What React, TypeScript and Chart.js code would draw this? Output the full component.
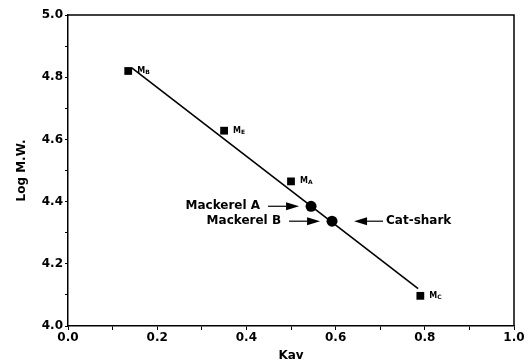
import React, { useEffect, useRef } from 'react';
import { Chart, registerables } from 'chart.js';

Chart.register(...registerables);

// Standards (marker proteins)
const standardNames = ['B', 'E', 'A', 'C'];
const standardKav = [0.135, 0.35, 0.5, 0.79];
const standardLogMW = [4.82, 4.628, 4.465, 4.097];

// Samples
const sampleKav = [0.545, 0.592];
const sampleLogMW = [4.385, 4.337];

// Calibration line end points
const fitKav = [0.143, 0.785];
const fitLogMW = [4.83, 4.12];

// Sample annotations: text, which sample point, which side
const noteTexts = ['Mackerel A', 'Mackerel B', 'Cat-shark'];
const notePoint = [0, 1, 1];
const noteSide = ['left', 'left', 'right'];

const xMin = 0;
const xMax = 1;
const yMin = 4;
const yMax = 5;

const FONT = '"DejaVu Sans", "Liberation Sans", Arial, sans-serif';

function drawArrow(ctx: CanvasRenderingContext2D, x1: number, y: number, x2: number) {
  const dir = x2 > x1 ? 1 : -1;
  const headLen = 13;
  const half = 4;
  ctx.beginPath();
  ctx.moveTo(x1, y);
  ctx.lineTo(x2 - dir * headLen, y);
  ctx.lineWidth = 1.2;
  ctx.strokeStyle = '#000';
  ctx.stroke();
  ctx.beginPath();
  ctx.moveTo(x2, y);
  ctx.lineTo(x2 - dir * headLen, y - half);
  ctx.lineTo(x2 - dir * headLen, y + half);
  ctx.closePath();
  ctx.fillStyle = '#000';
  ctx.fill();
}

const annotationPlugin = {
  id: 'annotations',
  afterDatasetsDraw(chart: any) {
    const { ctx, chartArea, scales } = chart;
    const x = scales.x;
    const y = scales.y;
    ctx.save();
    // frame top & right
    ctx.strokeStyle = '#000';
    ctx.lineWidth = 1.5;
    ctx.beginPath();
    ctx.moveTo(chartArea.left, chartArea.top);
    ctx.lineTo(chartArea.right, chartArea.top);
    ctx.lineTo(chartArea.right, chartArea.bottom);
    ctx.stroke();

    // standard labels M with subscript
    ctx.fillStyle = '#000';
    ctx.textBaseline = 'middle';
    ctx.textAlign = 'left';
    for (let i = 0; i < standardNames.length; i++) {
      const px = x.getPixelForValue(standardKav[i]) + 9;
      const py = y.getPixelForValue(standardLogMW[i]);
      ctx.font = `bold 8px ${FONT}`;
      ctx.fillText('M', px, py);
      const w = ctx.measureText('M').width;
      ctx.font = `bold 6px ${FONT}`;
      ctx.fillText(standardNames[i], px + w, py + 1.5);
    }

    // sample annotations with arrows
    ctx.font = `bold 12px ${FONT}`;
    for (let i = 0; i < noteTexts.length; i++) {
      const p = notePoint[i];
      const px = x.getPixelForValue(sampleKav[p]);
      const py = y.getPixelForValue(sampleLogMW[p]);
      if (noteSide[i] === 'left') {
        drawArrow(ctx, px - 43, py, px - 12);
        ctx.textAlign = 'right';
        ctx.fillText(noteTexts[i], px - 51, py);
      } else {
        drawArrow(ctx, px + 51, py, px + 22);
        ctx.textAlign = 'left';
        ctx.fillText(noteTexts[i], px + 54, py);
      }
    }
    ctx.restore();
  },
};

export default function App() {
  const ref = useRef<HTMLCanvasElement | null>(null);

  useEffect(() => {
    if (!ref.current) return;
    const chart = new Chart(ref.current, {
      type: 'scatter',
      data: {
        datasets: [
          {
            label: 'Calibration',
            data: fitKav.map((k, i) => ({ x: k, y: fitLogMW[i] })),
            showLine: true,
            borderColor: '#000',
            borderWidth: 1.6,
            pointRadius: 0,
          },
          {
            label: 'Standards',
            data: standardKav.map((k, i) => ({ x: k, y: standardLogMW[i] })),
            pointStyle: 'rect',
            pointRadius: 5.5,
            backgroundColor: '#000',
            borderColor: '#000',
            borderWidth: 0,
          },
          {
            label: 'Samples',
            data: sampleKav.map((k, i) => ({ x: k, y: sampleLogMW[i] })),
            pointStyle: 'circle',
            pointRadius: 5.5,
            backgroundColor: '#000',
            borderColor: '#000',
            borderWidth: 0,
          },
        ],
      },
      options: {
        animation: false,
        responsive: true,
        maintainAspectRatio: false,
        layout: { padding: { top: 15, right: 18, left: 0, bottom: 0 } },
        plugins: { legend: { display: false }, tooltip: { enabled: false } },
        scales: {
          x: {
            type: 'linear',
            min: xMin,
            max: xMax,
            afterFit: (s: any) => {
              s.height = 37;
            },
            border: { display: true, color: '#000', width: 1.5 },
            grid: { drawOnChartArea: false, drawTicks: true, tickLength: 4, color: '#000', lineWidth: 1 },
            ticks: {
              stepSize: 0.1,
              autoSkip: false,
              maxRotation: 0,
              padding: 1,
              color: '#000',
              font: { family: FONT, size: 12, weight: 'bold' },
              callback: (v: any) => (Math.round(Number(v) * 10) % 2 === 0 ? Number(v).toFixed(1) : ''),
            },
            title: {
              display: true,
              text: 'Kav',
              color: '#000',
              font: { family: FONT, size: 12, weight: 'bold', lineHeight: 1 },
              padding: { top: 0, bottom: 1 },
            },
          },
          y: {
            type: 'linear',
            min: yMin,
            max: yMax,
            afterFit: (s: any) => {
              s.width = 68;
            },
            border: { display: true, color: '#000', width: 1.5 },
            grid: { drawOnChartArea: false, drawTicks: true, tickLength: 3, color: '#000', lineWidth: 1 },
            ticks: {
              stepSize: 0.1,
              autoSkip: false,
              padding: 2,
              color: '#000',
              font: { family: FONT, size: 12, weight: 'bold' },
              callback: (v: any) => (Math.round(Number(v) * 10) % 2 === 0 ? Number(v).toFixed(1) : ''),
            },
            title: {
              display: true,
              text: 'Log M.W.',
              color: '#000',
              font: { family: FONT, size: 12, weight: 'bold', lineHeight: 1 },
              padding: { top: 16, bottom: 0 },
            },
          },
        },
      },
      plugins: [annotationPlugin],
    } as any);
    return () => chart.destroy();
  }, []);

  return (
    <div style={{ position: 'absolute', left: 0, top: 0, width: 532, height: 363, background: '#fff' }}>
      <canvas ref={ref} />
    </div>
  );
}
